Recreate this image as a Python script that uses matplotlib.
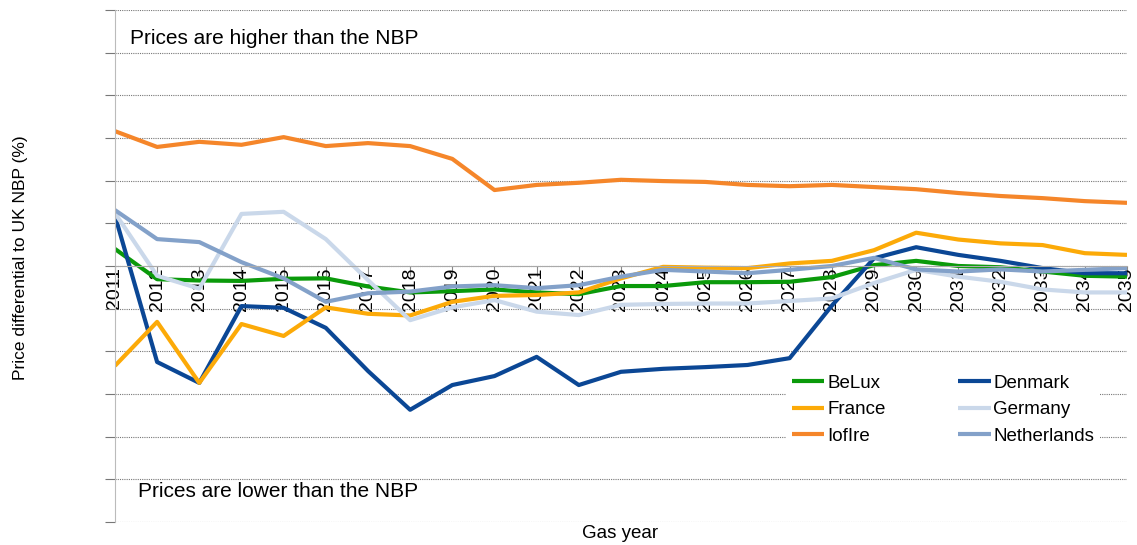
import matplotlib
matplotlib.use('Agg')
import matplotlib.pyplot as plt

# dati (differenziale % rispetto al NBP)
anni = [str(a) for a in range(2011, 2036)]

belux = [4.0, -3.1, -3.4, -3.5, -3.0, -2.9, -4.8, -6.2, -5.9, -5.5, -6.2, -6.6, -4.7,
         -4.7, -3.8, -3.8, -3.7, -2.6, 0.2, 1.2, 0.0, -0.3, -1.3, -2.3, -2.5]
denmark = [11.8, -22.5, -27.4, -9.4, -9.8, -14.5, -24.6, -33.7, -27.9, -25.8, -21.3, -27.9, -24.8,
           -24.1, -23.7, -23.2, -21.6, -9.3, 1.8, 4.4, 2.6, 1.2, -0.5, -1.7, -1.7]
france = [-23.4, -13.1, -27.4, -13.6, -16.4, -9.7, -11.2, -11.6, -8.4, -7.0, -6.8, -6.2, -2.9,
          -0.2, -0.4, -0.5, 0.6, 1.2, 3.7, 7.8, 6.2, 5.3, 4.9, 3.0, 2.6]
germany = [12.4, -2.3, -5.3, 12.2, 12.7, 6.3, -3.3, -12.7, -9.7, -8.0, -10.7, -11.5, -9.1,
           -8.9, -8.8, -8.8, -8.2, -7.6, -4.0, -0.9, -2.5, -3.7, -5.5, -6.2, -6.2]
iofire = [31.6, 27.9, 29.1, 28.4, 30.2, 28.1, 28.8, 28.1, 25.1, 17.8, 19.0, 19.5, 20.2,
          19.9, 19.7, 19.0, 18.7, 19.0, 18.5, 18.0, 17.1, 16.4, 15.9, 15.2, 14.8]
netherlands = [13.1, 6.3, 5.6, 0.9, -2.9, -8.4, -6.4, -6.0, -4.8, -4.5, -5.2, -4.5, -2.5,
               -0.9, -1.3, -1.7, -0.9, 0.0, 1.9, -0.8, -1.3, -0.8, -1.3, -0.9, -0.5]

serie = [('BeLux', belux, '#0a9a0a'),
         ('Denmark', denmark, '#0b4795'),
         ('France', france, '#fcaa08'),
         ('Germany', germany, '#cad8ea'),
         ('IofIre', iofire, '#f5862a'),
         ('Netherlands', netherlands, '#83a1c9')]


def main():
    plt.rcParams['font.family'] = ['Liberation Sans', 'DejaVu Sans']

    fig = plt.figure(figsize=(11.37, 5.45), dpi=100)
    ax = fig.add_axes([0.1011, 0.0422, 0.8901, 0.9395])

    x = list(range(len(anni)))
    linee = []
    for nome, valori, colore in serie:
        l, = ax.plot(x, valori, color=colore, linewidth=3.0, label=nome, solid_capstyle='butt')
        linee.append(l)

    ax.set_xlim(0, len(anni) - 1)
    ax.set_ylim(-60, 60)
    ax.set_yticks(range(-60, 61, 10))
    ax.set_yticklabels([])
    ax.grid(axis='y', color='#777777', linestyle=(0, (1, 1)), linewidth=0.8)
    ax.set_axisbelow(True)

    # asse x sullo zero
    ax.spines['bottom'].set_position(('data', 0))
    ax.spines['bottom'].set_color('#aaaaaa')
    ax.spines['left'].set_color('#bbbbbb')
    ax.spines['top'].set_visible(False)
    ax.spines['right'].set_visible(False)

    ax.set_xticks(x)
    ax.set_xticklabels(anni, rotation=90, fontsize=14)
    ax.tick_params(axis='x', direction='out', length=7, color='#888888', pad=-6)
    ax.tick_params(axis='y', direction='out', length=7, color='#777777')

    ax.text(0.0148, 0.945, 'Prices are higher than the NBP', transform=ax.transAxes,
            fontsize=15, va='center', ha='left')
    ax.text(0.0227, 0.0586, 'Prices are lower than the NBP', transform=ax.transAxes,
            fontsize=15, va='center', ha='left')

    fig.text(0.0176, 0.527, 'Price differential to UK NBP (%)', rotation=90,
             fontsize=12.5, va='center', ha='center')
    fig.text(0.545, 0.022, 'Gas year', fontsize=13.5, va='center', ha='center')

    # legenda riempita per righe: riordino le voci
    ordine = [0, 2, 4, 1, 3, 5]
    leg = ax.legend([linee[i] for i in ordine], [serie[i][0] for i in ordine],
                    ncol=2, loc='upper left', bbox_to_anchor=(0.663, 0.2988),
                    frameon=True, fancybox=False, edgecolor='white', framealpha=1,
                    fontsize=13.5, borderpad=0.3, borderaxespad=0,
                    handlelength=1.75, handletextpad=0.15, columnspacing=3.85,
                    labelspacing=0.5)
    leg.get_frame().set_linewidth(0)

    fig.savefig('out.png', dpi=100)


main()
